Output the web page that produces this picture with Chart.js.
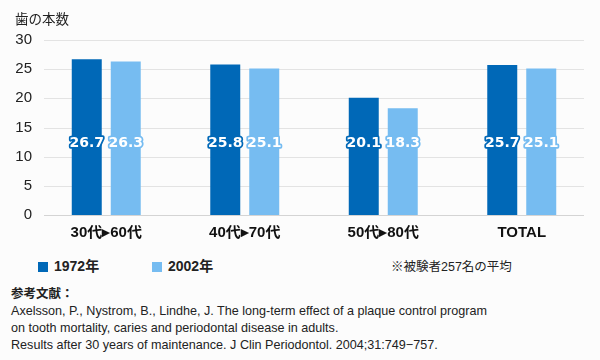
<!DOCTYPE html>
<html><head><meta charset="utf-8">
<script src="https://cdn.jsdelivr.net/npm/chart.js@4.4.1/dist/chart.umd.min.js"></script>
<style>
html,body{margin:0;padding:0;background:#fcfcfc;}
#wrap{position:relative;width:600px;height:360px;font-family:"Liberation Sans","Noto Sans CJK JP",sans-serif;color:#222;}
#c{position:absolute;left:0;top:0;}
.t{position:absolute;white-space:nowrap;}
#ytitle{left:15px;top:8px;font-size:13.5px;}
.leg{top:255px;font-size:14px;font-weight:bold;}
.sw{display:inline-block;width:10px;height:10px;margin-right:6px;vertical-align:-1px;}
#note{left:391px;top:256px;font-size:12.5px;}
#refh{left:11px;top:283px;font-size:12.5px;font-weight:bold;}
.ref{left:11px;font-size:12.6px;}
</style></head>
<body><div id="wrap">
<canvas id="c" width="600" height="251"></canvas>
<div class="t" id="ytitle">歯の本数</div>
<div class="t leg" id="leg1" style="left:38px"><span class="sw" style="background:#0068b7"></span>1972年</div>
<div class="t leg" id="leg2" style="left:152px"><span class="sw" style="background:#76bcf1"></span>2002年</div>
<div class="t" id="note">※被験者257名の平均</div>
<div class="t" id="refh">参考文献：</div>
<div class="t ref" style="top:304px">Axelsson, P., Nystrom, B., Lindhe, J. The long-term effect of a plaque control program</div>
<div class="t ref" style="top:321px">on tooth mortality, caries and periodontal disease in adults.</div>
<div class="t ref" style="top:338px">Results after 30 years of maintenance. J Clin Periodontol. 2004;31:749−757.</div>
</div>
<script>
const categories = ["30代▸60代", "40代▸70代", "50代▸80代", "TOTAL"];
const seriesNames = ["1972年", "2002年"];
const values1972 = [26.7, 25.8, 20.1, 25.7];
const values2002 = [26.3, 25.1, 18.3, 25.1];
const yTicks = [0, 5, 10, 15, 20, 25, 30];

const colors = ["#0068b7", "#76bcf1"];

const gridPlugin = {
  id: 'customGrid',
  beforeDatasetsDraw(chart) {
    const {ctx, chartArea, scales} = chart;
    ctx.save();
    ctx.lineWidth = 1;
    scales.y.ticks.forEach(t => {
      const y = Math.round(scales.y.getPixelForValue(t.value)) + 0.5;
      ctx.strokeStyle = t.value === 0 ? '#d4d4d4' : '#e3e3e3';
      ctx.beginPath();
      ctx.moveTo(chartArea.left + 7, y);
      ctx.lineTo(chartArea.right - 7, y);
      ctx.stroke();
    });
    ctx.restore();
  }
};

const labelPlugin = {
  id: 'valueLabels',
  afterDatasetsDraw(chart) {
    const {ctx, chartArea} = chart;
    ctx.save();
    ctx.font = 'bold 14px "DejaVu Sans", sans-serif';
    ctx.textAlign = 'center';
    ctx.textBaseline = 'middle';
    ctx.lineJoin = 'round';
    chart.data.datasets.forEach((ds, di) => {
      chart.getDatasetMeta(di).data.forEach((bar, i) => {
        const txt = ds.data[i].toFixed(1);
        const y = chartArea.bottom - 72;
        ctx.lineWidth = 3.5;
        ctx.strokeStyle = ds.backgroundColor;
        ctx.strokeText(txt, bar.x, y);
        ctx.fillStyle = '#ffffff';
        ctx.fillText(txt, bar.x, y);
      });
    });
    ctx.restore();
  }
};

new Chart(document.getElementById('c'), {
  type: 'bar',
  data: {
    labels: categories,
    datasets: [
      {label: seriesNames[0], data: values1972, backgroundColor: colors[0]},
      {label: seriesNames[1], data: values2002, backgroundColor: colors[1]}
    ]
  },
  options: {
    responsive: false,
    animation: false,
    devicePixelRatio: 1,
    layout: {padding: {top: 40, right: 9, left: 0, bottom: 0}},
    plugins: {legend: {display: false}, tooltip: {enabled: false}, title: {display: false}},
    datasets: {bar: {categoryPercentage: 0.563, barPercentage: 0.769}},
    scales: {
      x: {
        grid: {display: false, drawTicks: false},
        border: {display: false},
        ticks: {color: '#111', font: {family: '"Liberation Sans","Noto Sans CJK JP"', size: 15, weight: 'bold'}, padding: 9, maxRotation: 0}
      },
      y: {
        min: 0, max: 30,
        afterFit(s) { s.width = 37; },
        afterBuildTicks(s) { s.ticks = yTicks.map(v => ({value: v})); },
        grid: {display: false, drawTicks: false},
        border: {display: false},
        ticks: {color: '#222', font: {family: '"Liberation Sans"', size: 15}, padding: 5}
      }
    }
  },
  plugins: [gridPlugin, labelPlugin]
});
</script>
</body></html>
